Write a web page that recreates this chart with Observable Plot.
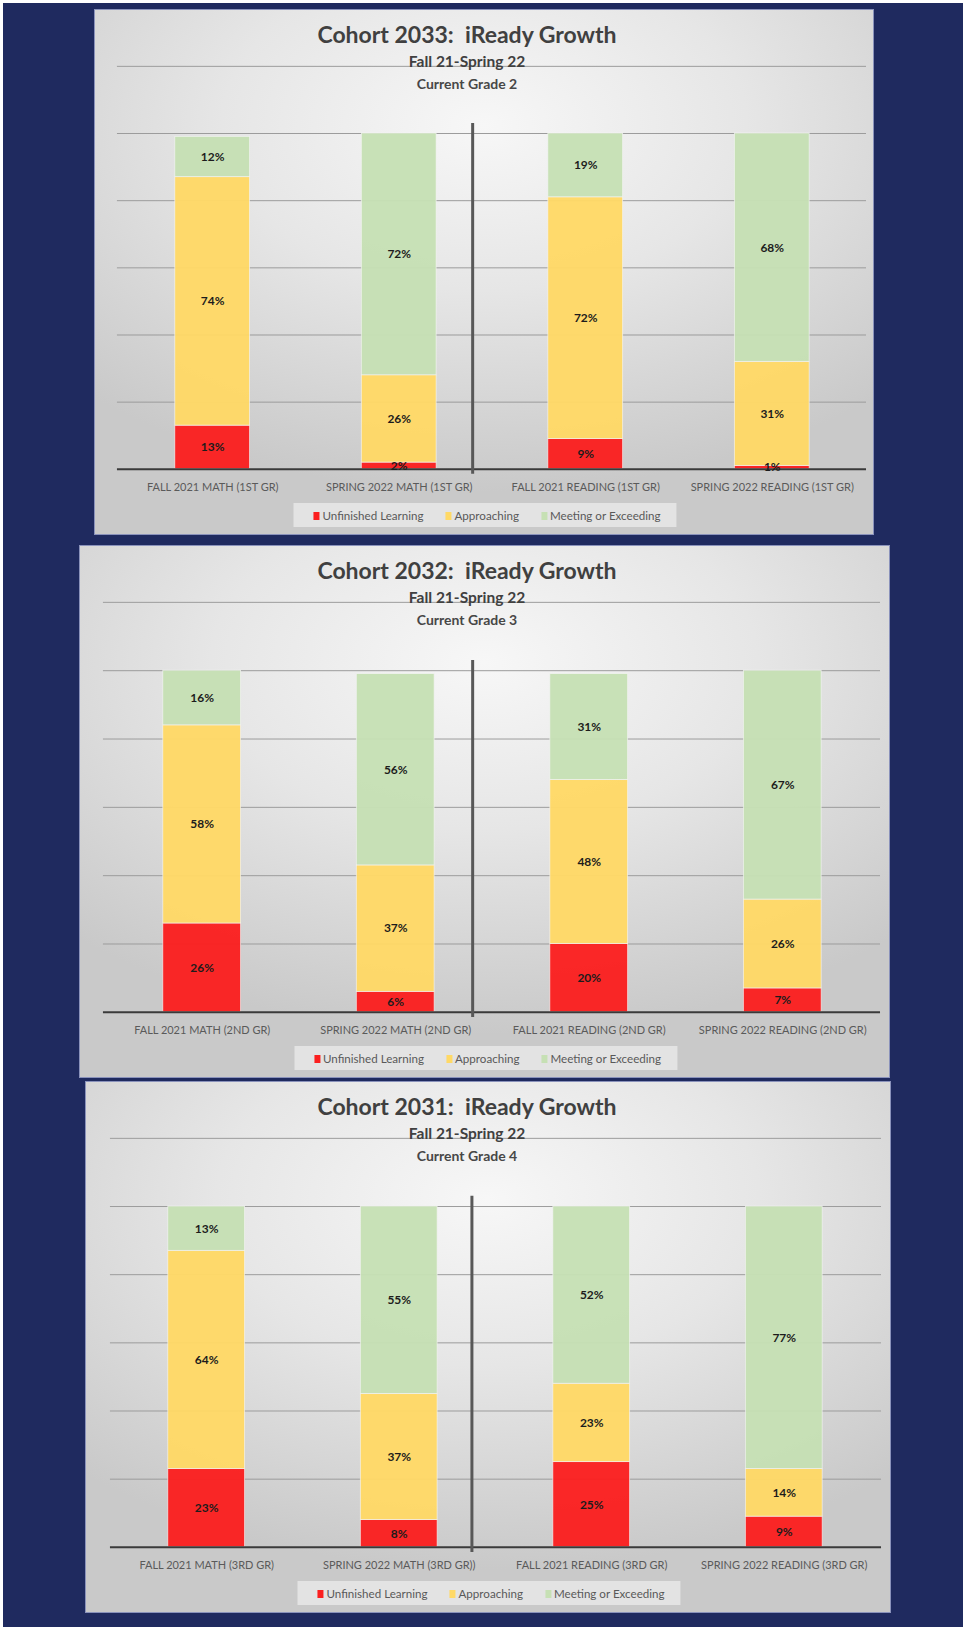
<!DOCTYPE html>
<html>
<head>
<meta charset="utf-8">
<script src="https://cdn.jsdelivr.net/npm/d3@7"></script>
<script src="https://cdn.jsdelivr.net/npm/@observablehq/plot@0.6"></script>
<style>
  html, body { margin: 0; padding: 0; background: #ffffff; }
  #frame { position: absolute; left: 3px; top: 3px; width: 960px; height: 1624px; background: #1f2a5f; }
  .panel { position: absolute; box-sizing: border-box; border: 1px solid #8a92bb;
    background: radial-gradient(ellipse 75% 70% at 50% 22%, #f7f7f7 0%, #e6e6e6 45%, #c9c9c9 100%);
    font-family: Lato, "Open Sans", sans-serif; overflow: hidden; }
  .panel svg { position: absolute; left: 0; top: 0; }
  .t { position: absolute; transform: translate(-50%, -50%); white-space: pre; color: #404040; text-align: center; }
  .t1 { font-size: 23px; font-weight: 700; }
  .t2 { font-size: 15.5px; font-weight: 700; }
  .t3 { font-size: 14px; font-weight: 700; color: #474747; }
  .legend { position: absolute; transform: translate(-50%, 0); height: 24px; background: rgba(235,235,235,0.75);
    display: flex; align-items: center; padding: 0 16px 0 20px; gap: 22px; white-space: nowrap;
    font-size: 11.6px; color: #595959; }
  .legend span.sw { display: inline-block; width: 6px; height: 8px; margin-right: 3px; vertical-align: -0.5px; }
</style>
</head>
<body>
<div id="frame"></div>
<script>
// ---------- data ----------
const levels = ["Unfinished Learning", "Approaching", "Meeting or Exceeding"];
const levelColors = ["#fb1f1f", "#ffd966", "#c6e0b4"];
const subtitle = "Fall 21-Spring 22";
const cohortTitles = ["Cohort 2033:  iReady Growth", "Cohort 2032:  iReady Growth", "Cohort 2031:  iReady Growth"];
const gradeLines = ["Current Grade 2", "Current Grade 3", "Current Grade 4"];

const categories2033 = ["FALL 2021 MATH (1ST GR)", "SPRING 2022 MATH (1ST GR)", "FALL 2021 READING (1ST GR)", "SPRING 2022 READING (1ST GR)"];
const unfinished2033 = [13, 2, 9, 1];
const approaching2033 = [74, 26, 72, 31];
const meeting2033 = [12, 72, 19, 68];

const categories2032 = ["FALL 2021 MATH (2ND GR)", "SPRING 2022 MATH (2ND GR)", "FALL 2021 READING (2ND GR)", "SPRING 2022 READING (2ND GR)"];
const unfinished2032 = [26, 6, 20, 7];
const approaching2032 = [58, 37, 48, 26];
const meeting2032 = [16, 56, 31, 67];

const categories2031 = ["FALL 2021 MATH (3RD GR)", "SPRING 2022 MATH (3RD GR))", "FALL 2021 READING (3RD GR)", "SPRING 2022 READING (3RD GR)"];
const unfinished2031 = [23, 8, 25, 9];
const approaching2031 = [64, 37, 23, 14];
const meeting2031 = [13, 55, 52, 77];

const gridTicks = [20, 40, 60, 80, 100, 120];
const yMax = 120;
const separatorSpan = [-1.5, 103];

// ---------- layout ----------
const panels = [
  {left: 91, top: 6, width: 780, height: 526, ml: 22, mr: 7, title: cohortTitles[0], grade: gradeLines[0], cats: categories2033, un: unfinished2033, ap: approaching2033, me: meeting2033},
  {left: 76, top: 542, width: 811, height: 533, ml: 23, mr: 9, title: cohortTitles[1], grade: gradeLines[1], cats: categories2032, un: unfinished2032, ap: approaching2032, me: meeting2032},
  {left: 82, top: 1078, width: 806, height: 532, ml: 24, mr: 9, title: cohortTitles[2], grade: gradeLines[2], cats: categories2031, un: unfinished2031, ap: approaching2031, me: meeting2031}
];
const titleCenterX = 466 - 3; // absolute, relative to frame
const separatorX = 472 - 3;   // absolute, relative to frame

const frame = document.getElementById("frame");
const M = {top: 56, bottom: 66};

panels.forEach(p => {
  const div = document.createElement("div");
  div.className = "panel";
  Object.assign(div.style, {left: p.left + "px", top: p.top + "px", width: p.width + "px", height: p.height + "px"});
  frame.appendChild(div);

  const rows = [];
  p.cats.forEach((c, i) => {
    rows.push({cat: c, level: levels[0], v: p.un[i]});
    rows.push({cat: c, level: levels[1], v: p.ap[i]});
    rows.push({cat: c, level: levels[2], v: p.me[i]});
  });
  const step = (p.width - p.ml - p.mr) / p.cats.length;
  const center3 = p.left + p.ml + step * 2.5;

  const chart = Plot.plot({
    width: p.width, height: p.height,
    marginTop: M.top, marginBottom: M.bottom, marginLeft: p.ml, marginRight: p.mr,
    style: {background: "transparent", fontFamily: "Lato, 'Open Sans', sans-serif", overflow: "visible"},
    x: {domain: p.cats, paddingInner: 0.6, paddingOuter: 0.3, axis: null},
    y: {domain: [0, yMax], axis: null},
    color: {domain: levels, range: levelColors},
    marks: [
      Plot.ruleY(gridTicks, {stroke: "#9c9c9c", strokeWidth: 1}),
      Plot.barY(rows, Plot.stackY({x: "cat", y: "v", fill: "level", z: "level", order: levels,
        stroke: "#f4f4f4", strokeWidth: 0.8, strokeOpacity: 0.8, fillOpacity: 0.96})),
      Plot.ruleY([0], {stroke: "#3a3a3a", strokeWidth: 2}),
      Plot.text(rows, Plot.stackY({x: "cat", y: "v", z: "level", order: levels,
        text: d => d.v + "%", fontSize: 12, fontWeight: 700, fill: "#1c1c1c"})),
      Plot.axisX({tickSize: 0, tickPadding: 14, fontSize: 11, fill: "#5a5a5a", label: null}),
      Plot.ruleX([p.cats[2]], {y1: separatorSpan[0], y2: separatorSpan[1], dx: separatorX - center3, stroke: "#585858", strokeWidth: 3})
    ]
  });
  div.appendChild(chart);

  const cx = titleCenterX - p.left;
  [[p.title, "t1", 24], [subtitle, "t2", 51], [p.grade, "t3", 73]].forEach(([txt, cls, y]) => {
    const t = document.createElement("div");
    t.className = "t " + cls;
    t.textContent = txt;
    t.style.left = cx + "px";
    t.style.top = y + "px";
    div.appendChild(t);
  });

  const lg = document.createElement("div");
  lg.className = "legend";
  lg.style.left = (p.width / 2) + "px";
  lg.style.top = (p.height - 33) + "px";
  levels.forEach((l, i) => {
    const it = document.createElement("div");
    it.innerHTML = `<span class="sw" style="background:${levelColors[i]}"></span>${l}`;
    lg.appendChild(it);
  });
  div.appendChild(lg);
});
</script>
</body>
</html>
